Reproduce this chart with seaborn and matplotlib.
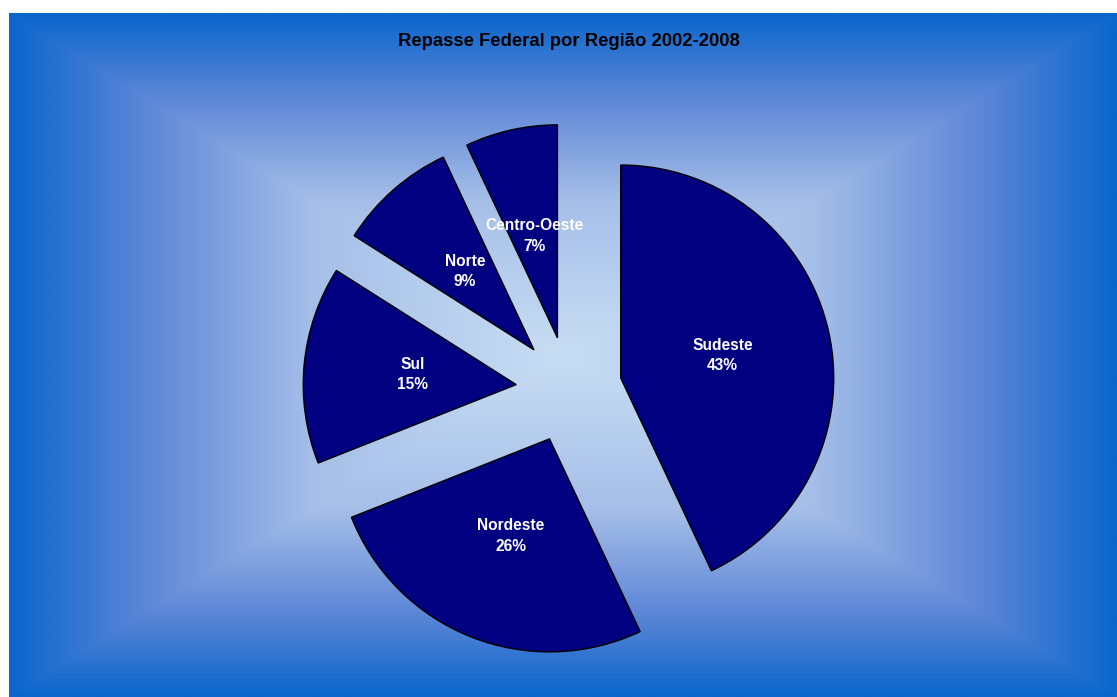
import numpy as np
import matplotlib
matplotlib.use("Agg")
import matplotlib.pyplot as plt
from matplotlib.colors import LinearSegmentedColormap
import seaborn as sns

# ---- data ----
regions = ["Sudeste", "Nordeste", "Sul", "Norte", "Centro-Oeste"]
shares = [43, 26, 15, 9, 7]
pct_labels = ["43%", "26%", "15%", "9%", "7%"]
title = "Repasse Federal por Região 2002-2008"

sns.set_theme(style="white")
plt.rcParams['font.family'] = ['Liberation Sans', 'DejaVu Sans']

W, H = 1117, 697
fig = plt.figure(figsize=(W / 100, H / 100), dpi=100, facecolor='white')
ax = fig.add_axes([0, 0, 1, 1])

# ---- background: rectangular "from center" gradient ----
x0, x1, y0, y1 = 9, W, 0, H - 13
nx, ny = 800, 500
xs = np.linspace(-1, 1, nx)
ys = np.linspace(-1, 1, ny)
X, Y = np.meshgrid(xs, ys)
T = np.maximum(np.abs(X), np.abs(Y))
bg_cmap = LinearSegmentedColormap.from_list(
    'bg', [(0.0, '#C8DEF4'), (0.45, '#A6BFE8'), (0.75, '#5F87D7'), (1.0, '#0A66CC')])
ax.imshow(T, cmap=bg_cmap, extent=(x0, x1, y0, y1), origin='lower',
          aspect='auto', zorder=0, interpolation='bilinear', vmin=0, vmax=1)

# ---- pie ----
labels = [f"{r}\n{p}" for r, p in zip(regions, pct_labels)]
palette = sns.color_palette(['#000080'] * len(shares))
wedges, texts = ax.pie(
    shares, labels=labels, startangle=90, counterclock=False,
    explode=[53] * len(shares), radius=213, center=(569, H - 389.6),
    labeldistance=0.49, colors=palette, frame=True,
    wedgeprops=dict(edgecolor='black', linewidth=1.0, zorder=2),
    textprops=dict(color='white', fontsize=11.2, fontweight='bold'))
for t in texts:
    t.set_ha('center')
    t.set_va('center')
    t.set_multialignment('center')
    t.set_linespacing(1.45)
    t.set_zorder(3)

ax.text(569, H - 42, title, ha='center', va='center', fontsize=13.3,
        fontweight='bold', color='black', zorder=3)

ax.set_xlim(0, W)
ax.set_ylim(0, H)
ax.set_aspect('auto')
ax.axis('off')

fig.savefig('out.png', dpi=100, facecolor='white')
